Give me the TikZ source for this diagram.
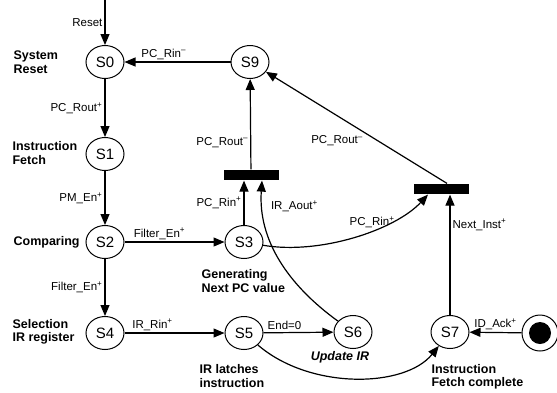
\documentclass[tikz,border=0pt]{standalone}
\usepackage{fontspec}
\setmainfont{Liberation Sans}
\usetikzlibrary{arrows.meta,positioning,shapes.geometric}

\begin{document}
\begin{tikzpicture}[x=1pt,y=-1pt,>={Triangle[length=11pt,width=9pt]},line width=1.2pt]
\tikzstyle{state}=[ellipse,draw,line width=1pt,minimum width=38pt,minimum height=33pt,inner sep=0pt,font=\fontsize{15}{15}\selectfont]
\tikzstyle{bar}=[fill=black,minimum width=55pt,minimum height=10pt,inner sep=0pt]
\tikzstyle{lab}=[font=\fontsize{11.5}{12}\selectfont,inner sep=2pt]
\tikzstyle{desc}=[font=\fontsize{12.5}{13.5}\selectfont\bfseries,align=left,inner sep=0pt,anchor=west]
\useasboundingbox (0,0) rectangle (557,392);
\foreach \n/\x/\y in {0/105/62,1/105/154,2/105/242,3/244/242,4/105/333,5/244/333,6/353/332,7/450/332,9/250/62}
  \node[state] (s\n) at (\x,\y) {S\n};
\node[bar] (b1) at (251,175) {};
\node[bar] (b2) at (441,189) {};
\node[circle,draw,line width=1pt,minimum size=36pt,inner sep=0pt] (fin) at (540,333) {};
\node[circle,fill=black,minimum size=22pt,inner sep=0pt] (dot) at (fin) {};
\coordinate (rst) at (105,0);
\node[desc] (d0) at (13,62) {System\\Reset};
\node[desc] (d1) at (12,153) {Instruction\\Fetch};
\node[desc] (d2) at (13,242) {Comparing};
\node[desc] (d4) at (12,332) {Selection\\IR register};
\node[desc] (d3) at (201,281) {Generating\\Next PC value};
\node[desc] (d5) at (199,376) {IR latches\\instruction};
\node[desc,anchor=center,font=\fontsize{12.5}{13.5}\selectfont\bfseries\itshape] (d6) at (340,357) {Update IR};
\node[desc] (d7) at (431,377) {Instruction\\Fetch complete};
\draw[->] (rst) -- node[lab,left] {Reset} (s0);
\draw[->] (s9) -- node[lab,above,pos=0.63] {PC\_Rin\textsuperscript{\textendash}} (s0);
\draw[->] (s0) -- node[lab,left] {PC\_Rout\textsuperscript{+}} (s1);
\draw[->] (s1) -- node[lab,left] {PM\_En\textsuperscript{+}} (s2);
\draw[->] (s2) -- node[lab,above,pos=0.35] {Filter\_En\textsuperscript{+}} (s3);
\draw[->] (s2) -- node[lab,left] {Filter\_En\textsuperscript{+}} (s4);
\draw[->] (s4) -- node[lab,above,pos=0.28] {IR\_Rin\textsuperscript{+}} (s5);
\draw[->] (s5) -- node[lab,above,pos=0.3] {End=0} (s6);
\draw[->] (s3) -- node[lab,left] {PC\_Rin\textsuperscript{+}} (s3 |- b1.south);
\draw[->] (s6) .. controls (288,285) and (258,240) .. node[lab,right=6pt,pos=0.85] {IR\_Aout\textsuperscript{+}} ([xshift=11pt]b1.south);
\draw[->] (b1) -- node[lab,left,pos=0.3] {PC\_Rout\textsuperscript{\textendash}} (s9);
\draw[->] (s3) .. controls (320,255) and (395,230) .. node[lab,above,pos=0.6] {PC\_Rin\textsuperscript{+}} ([xshift=-13pt]b2.south);
\draw[->] (s7) -- node[lab,right,pos=0.75] {Next\_Inst\textsuperscript{+}} (s7 |- b2.south);
\draw[->] ([xshift=6pt]b2.north) -- node[lab,below left,pos=0.45] {PC\_Rout\textsuperscript{\textendash}} (s9);
\draw[->] (fin) -- node[lab,above] {ID\_Ack\textsuperscript{+}} (s7);
\draw[->] (s5) .. controls (310,390) and (405,388) .. (s7);
\end{tikzpicture}
\end{document}
